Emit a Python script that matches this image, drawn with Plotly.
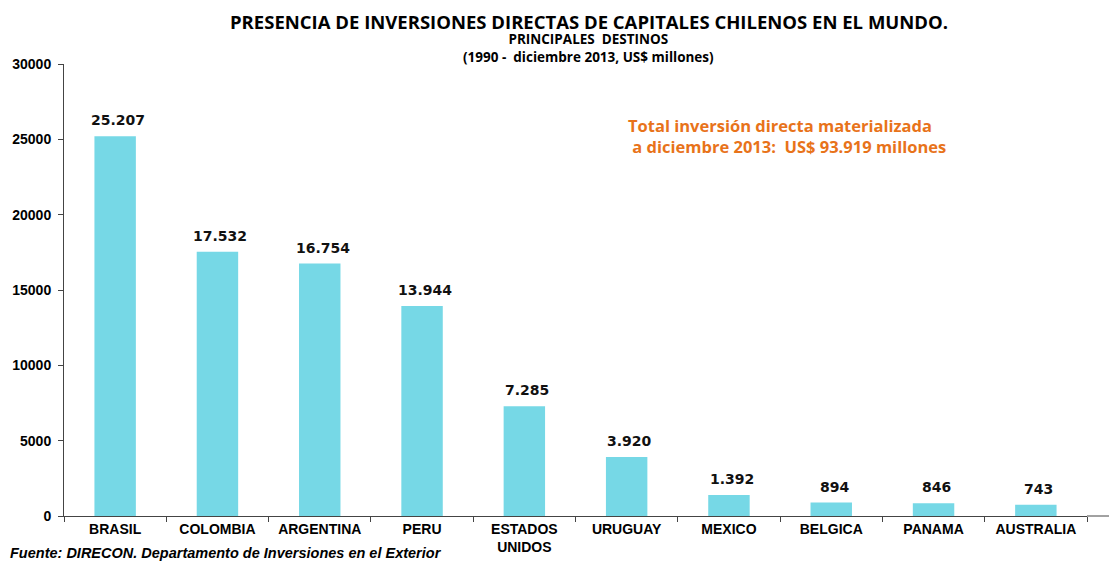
import plotly.graph_objects as go

# Datos (US$ millones, 1990 - diciembre 2013)
paises = ["BRASIL", "COLOMBIA", "ARGENTINA", "PERU", "ESTADOS<br>UNIDOS",
          "URUGUAY", "MEXICO", "BELGICA", "PANAMA", "AUSTRALIA"]
inversion = [25207, 17532, 16754, 13944, 7285, 3920, 1392, 894, 846, 743]
y_ticks = [0, 5000, 10000, 15000, 20000, 25000, 30000]

etiquetas = [f"{v:,}".replace(",", ".") for v in inversion]

# la pagina tiene 8px de margen en el body
OFF = 8
FW, FH = 1117 - 2 * OFF, 571 - 2 * OFF
ML, MT = 64 - OFF, 64 - OFF
MR = OFF + FW - 1087
MB = OFF + FH - 516
W = FW - ML - MR
H = FH - MT - MB


def px(pix):
    return (pix - OFF - ML) / W


def py(pix):
    return (FH - MB - (pix - OFF)) / H


fig = go.Figure()

fig.add_trace(go.Bar(
    x=paises,
    y=inversion,
    marker=dict(color='#76D8E6', line=dict(width=0)),
    showlegend=False,
))

# Etiquetas de valor sobre las barras
for p, v, t in zip(paises, inversion, etiquetas):
    fig.add_annotation(
        x=p, y=v, text=f"<b>{t}</b>", showarrow=False, yanchor='bottom', yshift=6,
        xshift=3, font=dict(family='DejaVu Sans', size=14, color='#111111'),
    )

# Titulos
fig.add_annotation(
    x=px(589), y=py(OFF), xref='paper', yref='paper', yanchor='top', showarrow=False,
    text="<b>PRESENCIA DE INVERSIONES DIRECTAS DE CAPITALES CHILENOS EN EL MUNDO.</b>",
    font=dict(family='Open Sans', size=18.5, color='black'), borderpad=0,
)
fig.add_annotation(
    x=px(588), y=py(67), xref='paper', yref='paper', yanchor='bottom', showarrow=False,
    text="<b>PRINCIPALES  DESTINOS</b><br><b>(1990 -  diciembre 2013, US$ millones)</b>",
    font=dict(family='Open Sans', size=13.5, color='black'), borderpad=0,
)

# Total
fig.add_annotation(
    x=px(626), y=py(136), xref='paper', yref='paper', xanchor='left', yanchor='middle',
    showarrow=False, align='left',
    text="<b>Total inversión directa materializada<br> a diciembre 2013:  US$ 93.919 millones</b>",
    font=dict(family='Open Sans', size=16.5, color='#E8731A'),
)

# Fuente
fig.add_annotation(
    x=px(8), y=py(OFF + FH), xref='paper', yref='paper', xanchor='left', yanchor='bottom',
    showarrow=False,
    text="<b><i>Fuente: DIRECON. Departamento de Inversiones en el Exterior</i></b>",
    font=dict(family='Liberation Sans', size=14.5, color='black'),
)

# linea del eje x que sigue hasta el borde
fig.add_shape(
    type='line', xref='paper', yref='paper', x0=1, x1=px(1116), y0=0, y1=0,
    line=dict(color='#444444', width=1),
)

fig.update_layout(
    width=FW, height=FH,
    margin=dict(l=ML, r=MR, t=MT, b=MB, autoexpand=False),
    plot_bgcolor='white', paper_bgcolor='white',
    bargap=0.595,
    font=dict(family='Liberation Sans', color='black'),
)

fig.update_xaxes(
    type='category', tickson='boundaries', ticks='outside', ticklen=5,
    tickcolor='#444444', showline=True, linecolor='#444444', linewidth=1,
    tickfont=dict(family='Liberation Sans', size=14, color='black', weight='bold'),
    showgrid=False, automargin=False,
)
fig.update_yaxes(
    range=[0, 30000], tickvals=y_ticks, tickformat='d', ticks='outside', ticklen=5,
    tickcolor='#444444', showline=True, linecolor='#444444', linewidth=1,
    tickfont=dict(family='Liberation Sans', size=14, color='black', weight='bold'),
    ticklabelstandoff=4, automargin=False,
    showgrid=False, zeroline=False,
)

fig.write_html("out.html")
